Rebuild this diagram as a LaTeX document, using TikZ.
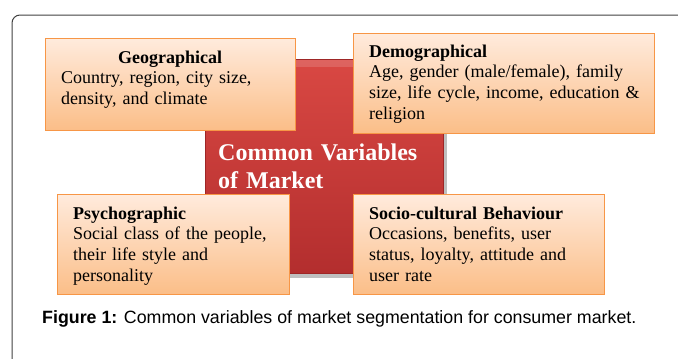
\documentclass[tikz,border=0pt]{standalone}
\usepackage{fontspec}
\setmainfont{Liberation Serif}
\setsansfont{Liberation Sans}
\definecolor{panelline}{HTML}{F79646}
\definecolor{paneltop}{HTML}{FFEBDD}
\definecolor{panelbottom}{HTML}{FBBE88}
\definecolor{coretop}{HTML}{D94843}
\definecolor{corebottom}{HTML}{B32E2E}
\definecolor{coreline}{HTML}{9E2626}
\begin{document}
\begin{tikzpicture}[x=1pt,y=-1pt,
  panel/.style={draw=panelline,line width=1pt,top color=paneltop,bottom color=panelbottom},
  paneltext/.style={anchor=base west,inner sep=0pt,align=left,font=\fontsize{18}{20.7}\selectfont},
  coretext/.style={anchor=base west,inner sep=0pt,align=left,text=white,font=\bfseries\fontsize{24}{28}\selectfont}]
\useasboundingbox (0,0) rectangle (678,359);
\path[draw=black!75,line width=1pt,rounded corners=8pt] (12,15) rectangle (700,390);

\path[fill=black,opacity=0.25] (208,63) rectangle (447,278);
\path[draw=coreline,top color=coretop,bottom color=corebottom] (205,59) rectangle (443,273);
\path[fill=white,opacity=0.15] (206,60) rectangle (442,67);
\node[coretext,text width=225] (core) at (218,160) {Common Variables\\of Market};

\path[panel] (45,38) rectangle (295,130);
\path[panel] (353,33) rectangle (654,133);
\path[panel] (57,194) rectangle (289,294);
\path[panel] (353,194) rectangle (604,294);

\node[paneltext,text width=218] (geo) at (61,63) {{\centering\textbf{Geographical}\par}Country, region, city size,\\density, and climate};
\node[paneltext,text width=280] (demo) at (369,57) {\textbf{Demographical}\\Age, gender (male/female), family\\size, life cycle, income, education \&\\religion};
\node[paneltext,text width=212] (psycho) at (73,219) {\textbf{Psychographic}\\Social class of the people,\\their life style and\\personality};
\node[paneltext,text width=232] (socio) at (369,219) {\textbf{Socio-cultural Behaviour}\\Occasions, benefits, user\\status, loyalty, attitude and\\user rate};

\node[anchor=base west,inner sep=0pt,font=\sffamily\fontsize{17.8}{20}\selectfont] (caption) at (42,323) {\textbf{Figure 1:} Common variables of market segmentation for consumer market.};
\end{tikzpicture}
\end{document}
